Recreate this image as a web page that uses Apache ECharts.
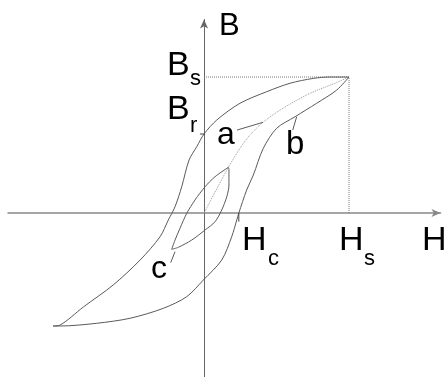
<!DOCTYPE html>
<html>
<head>
<meta charset="utf-8">
<script src="https://cdn.jsdelivr.net/npm/echarts@6/dist/echarts.min.js"></script>
<style>
  html, body { margin: 0; padding: 0; background: #fff; }
  #chart { width: 447px; height: 377px; }
</style>
</head>
<body>
<div id="chart"></div>
<script>
// Hysteresis loop of a ferromagnet, H (field) vs B (flux density),
// in units where the saturation point is (Hs, Bs) = (1, 1).
const Hs = 1.0;
const Bs = 1.0;
const Br = 0.581;   // remanence
const Hc = 0.24;    // coercivity

// Branch coming down from +saturation (passes through Br)
const descendingBranch = [
  [1.000, 1.000], [0.869, 1.000], [0.754, 0.990], [0.593, 0.954],
  [0.432, 0.892], [0.248, 0.807], [0.088, 0.684], [0.000, 0.581],
  [-0.050, 0.488], [-0.103, 0.390], [-0.154, 0.193], [-0.200, 0.046],
  [-0.246, -0.051], [-0.303, -0.174], [-0.441, -0.346], [-0.626, -0.529],
  [-0.832, -0.691], [-0.993, -0.824], [-1.041, -0.831]
];

// Branch going up from the negative tip (passes through Hc)
const ascendingBranch = [
  [-1.041, -0.831], [-0.993, -0.831], [-0.740, -0.811], [-0.510, -0.774],
  [-0.281, -0.701], [-0.119, -0.615], [-0.005, -0.493], [0.122, -0.346],
  [0.191, -0.174], [0.226, -0.051], [0.240, 0.000], [0.294, 0.169],
  [0.340, 0.279], [0.409, 0.476], [0.501, 0.623], [0.628, 0.708],
  [0.777, 0.807], [0.915, 0.904], [1.000, 1.000]
];

// Initial magnetisation curve from the origin (dotted)
const initialCurve = [
  [0.000, 0.000], [0.168, 0.336], [0.248, 0.476], [0.317, 0.574],
  [0.409, 0.669], [0.547, 0.772], [0.731, 0.880], [0.892, 0.949],
  [1.000, 1.000]
];

// Minor loop c
const minorLoopDown = [
  [0.168, 0.336], [0.076, 0.267], [0.007, 0.193], [-0.062, 0.096],
  [-0.119, -0.002], [-0.166, -0.113], [-0.200, -0.199], [-0.223, -0.267]
];
const minorLoopUp = [
  [-0.223, -0.267], [-0.177, -0.252], [-0.085, -0.199], [0.007, -0.125],
  [0.076, -0.064], [0.122, 0.022], [0.157, 0.120], [0.172, 0.206],
  [0.172, 0.320], [0.168, 0.336]
];

// Leader lines for the curve labels
const leaderA = [[0.228, 0.610], [0.407, 0.667]];
const leaderB = [[0.612, 0.610], [0.639, 0.708]];
const leaderC = [[-0.230, -0.365], [-0.200, -0.285]];

const chart = echarts.init(document.getElementById('chart'), null, { renderer: 'canvas' });

const curveStyle = { color: '#5a5a5a', width: 1 };

function curve(name, data, style, smooth) {
  return {
    name: name,
    type: 'line',
    data: data,
    showSymbol: false,
    smooth: smooth,
    silent: true,
    lineStyle: style,
    z: 3
  };
}

const FONT = '"Liberation Sans", Arial, sans-serif';
function label(text, x, y, size) {
  return {
    type: 'text',
    x: x, y: y,
    style: {
      text: text,
      font: size + 'px ' + FONT,
      fill: '#000',
      textAlign: 'left',
      textVerticalAlign: 'middle'
    },
    z: 10
  };
}

chart.setOption({
  animation: false,
  backgroundColor: '#fff',
  grid: { left: 8, right: 6.5, top: 19.5, bottom: 0, containLabel: false },
  xAxis: {
    type: 'value',
    min: -1.352, max: 1.631,
    axisLine: {
      show: true, onZero: true,
      symbol: ['none', 'arrow'], symbolSize: [6, 9],
      lineStyle: { color: '#888', width: 1.5 }
    },
    axisTick: { show: false },
    axisLabel: { show: false },
    splitLine: { show: false }
  },
  yAxis: {
    type: 'value',
    min: -1.206, max: 1.423,
    axisLine: {
      show: true, onZero: true,
      symbol: ['none', 'arrow'], symbolSize: [6, 9],
      lineStyle: { color: '#666', width: 1 }
    },
    axisTick: { show: false },
    axisLabel: { show: false },
    splitLine: { show: false }
  },
  series: [
    curve('Bs guide', [[0, Bs], [Hs, Bs], [Hs, 0]], { color: '#777', width: 1, type: 'dotted' }, false),
    curve('initial', initialCurve, { color: '#999', width: 1, type: 'dotted' }, 0.3),
    curve('descending', descendingBranch, curveStyle, 0.3),
    curve('ascending', ascendingBranch, curveStyle, 0.3),
    curve('minor down', minorLoopDown, curveStyle, 0.3),
    curve('minor up', minorLoopUp, curveStyle, 0.3),
    curve('leader a', leaderA, curveStyle, false),
    curve('leader b', leaderB, curveStyle, false),
    curve('leader c', leaderC, curveStyle, false),
    curve('Br tick', [[-0.028, Br], [0.007, Br]], { color: '#444', width: 1 }, false),
    curve('Hc tick', [[Hc, 0], [Hc, -0.064]], { color: '#444', width: 1 }, false)
  ],
  graphic: [
    label('B', 219, 26, 31),
    label('B', 167, 66, 34),
    label('s', 190, 79, 22),
    label('B', 167, 110, 34),
    label('r', 190, 126, 22),
    label('a', 217, 135, 32),
    label('b', 286, 145, 33),
    label('c', 151, 269, 32),
    label('H', 242, 241, 34),
    label('c', 268, 259, 22),
    label('H', 339, 241, 34),
    label('s', 364, 259, 22),
    label('H', 422, 241, 34)
  ]
});
</script>
</body>
</html>
